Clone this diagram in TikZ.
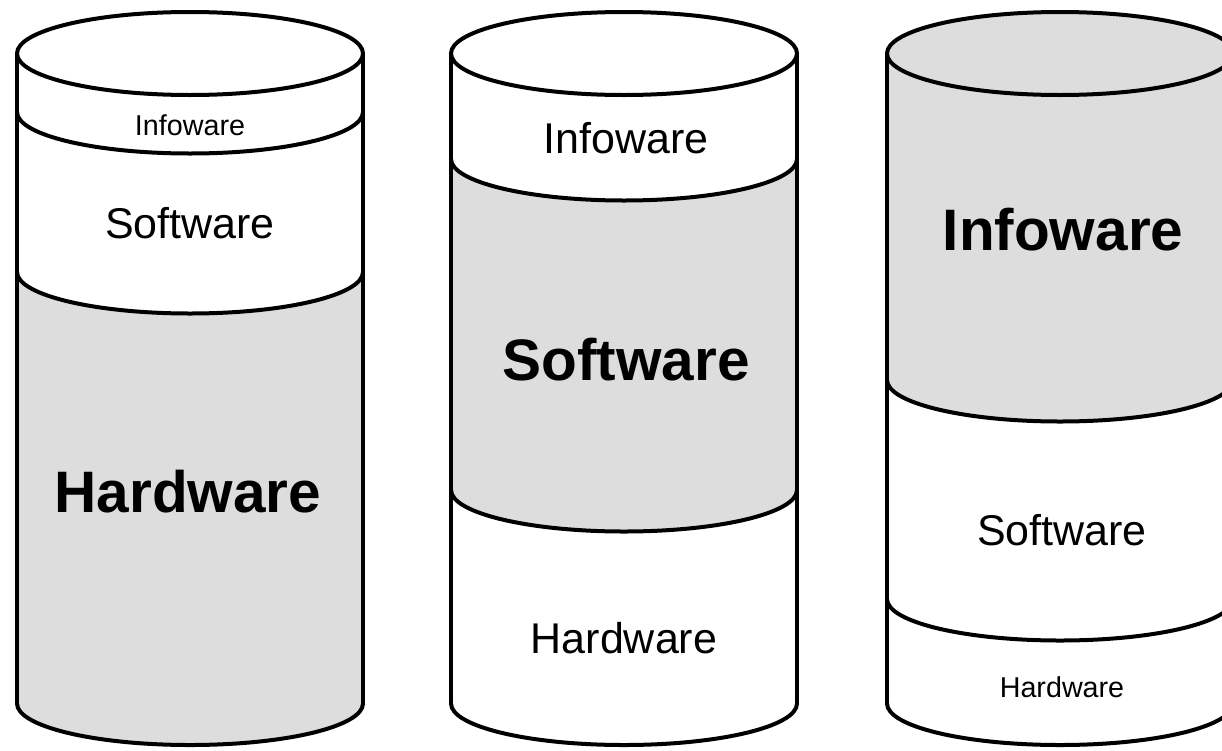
\documentclass[tikz,border=0pt]{standalone}
\usepackage{fontspec}
\setmainfont{Liberation Sans}
\definecolor{layergray}{HTML}{DDDDDD}

% one band of a cylinder: cx, upper level, lower level, fill colour
\newcommand\cylband[4]{%
  \fill[#4] ({#1-\cylrx},-#2) -- ({#1-\cylrx},-#3)
    arc[start angle=180, end angle=360, x radius=\cylrx, y radius=\cylry]
    -- ({#1+\cylrx},-#2)
    arc[start angle=360, end angle=180, x radius=\cylrx, y radius=\cylry]
    -- cycle;}
% a front rim (lower half ellipse) at a level
\newcommand\cylrim[2]{%
  \draw[outline] ({#1-\cylrx},-#2)
    arc[start angle=180, end angle=360, x radius=\cylrx, y radius=\cylry];}
% top ellipse and the two sides
\newcommand\cylshell[4]{%
  \fill[#4] (#1,-#2) ellipse[x radius=\cylrx, y radius=\cylry];
  \draw[outline] (#1,-#2) ellipse[x radius=\cylrx, y radius=\cylry];
  \draw[outline] ({#1-\cylrx},-#2) -- ({#1-\cylrx},-#3);
  \draw[outline] ({#1+\cylrx},-#2) -- ({#1+\cylrx},-#3);}

\def\cylrx{173}
\def\cylry{41.5}

\tikzset{
  outline/.style={line width=4pt, line join=round, line cap=round},
  small/.style={anchor=base, inner sep=0pt, font=\fontsize{28.7pt}{30pt}\selectfont},
  normal/.style={anchor=base, inner sep=0pt, font=\fontsize{43pt}{45pt}\selectfont},
  strong/.style={anchor=base, inner sep=0pt, font=\fontsize{58.5pt}{60pt}\selectfont\bfseries},
}

\begin{document}
\begin{tikzpicture}[x=1pt,y=1pt]
\useasboundingbox (0,0) rectangle (1222,-750);
\clip (0,0) rectangle (1222,-750);

% ---- first cylinder: hardware dominant
\cylband{190}{53.5}{112}{white}
\cylband{190}{112}{272}{white}
\cylband{190}{272}{703.5}{layergray}
\cylshell{190}{53.5}{703.5}{white}
\cylrim{190}{112}
\cylrim{190}{272}
\cylrim{190}{703.5}
\node[small]  (info1) at (190,-135) {Infoware};
\node[normal] (soft1) at (190,-238) {Software};
\node[strong] (hard1) at (188,-512) {Hardware};

% ---- second cylinder: software dominant
\cylband{624}{53.5}{159}{white}
\cylband{624}{159}{490}{layergray}
\cylband{624}{490}{703.5}{white}
\cylshell{624}{53.5}{703.5}{white}
\cylrim{624}{159}
\cylrim{624}{490}
\cylrim{624}{703.5}
\node[normal] (info2) at (626,-153) {Infoware};
\node[strong] (soft2) at (626,-380) {Software};
\node[normal] (hard2) at (624,-653) {Hardware};

% ---- third cylinder: infoware dominant
\cylband{1060}{53.5}{380}{layergray}
\cylband{1060}{380}{599}{white}
\cylband{1060}{599}{703.5}{white}
\cylshell{1060}{53.5}{703.5}{layergray}
\cylrim{1060}{380}
\cylrim{1060}{599}
\cylrim{1060}{703.5}
\node[strong] (info3) at (1063,-250) {Infoware};
\node[normal] (soft3) at (1062,-545) {Software};
\node[small]  (hard3) at (1062,-697) {Hardware};
\end{tikzpicture}
\end{document}
